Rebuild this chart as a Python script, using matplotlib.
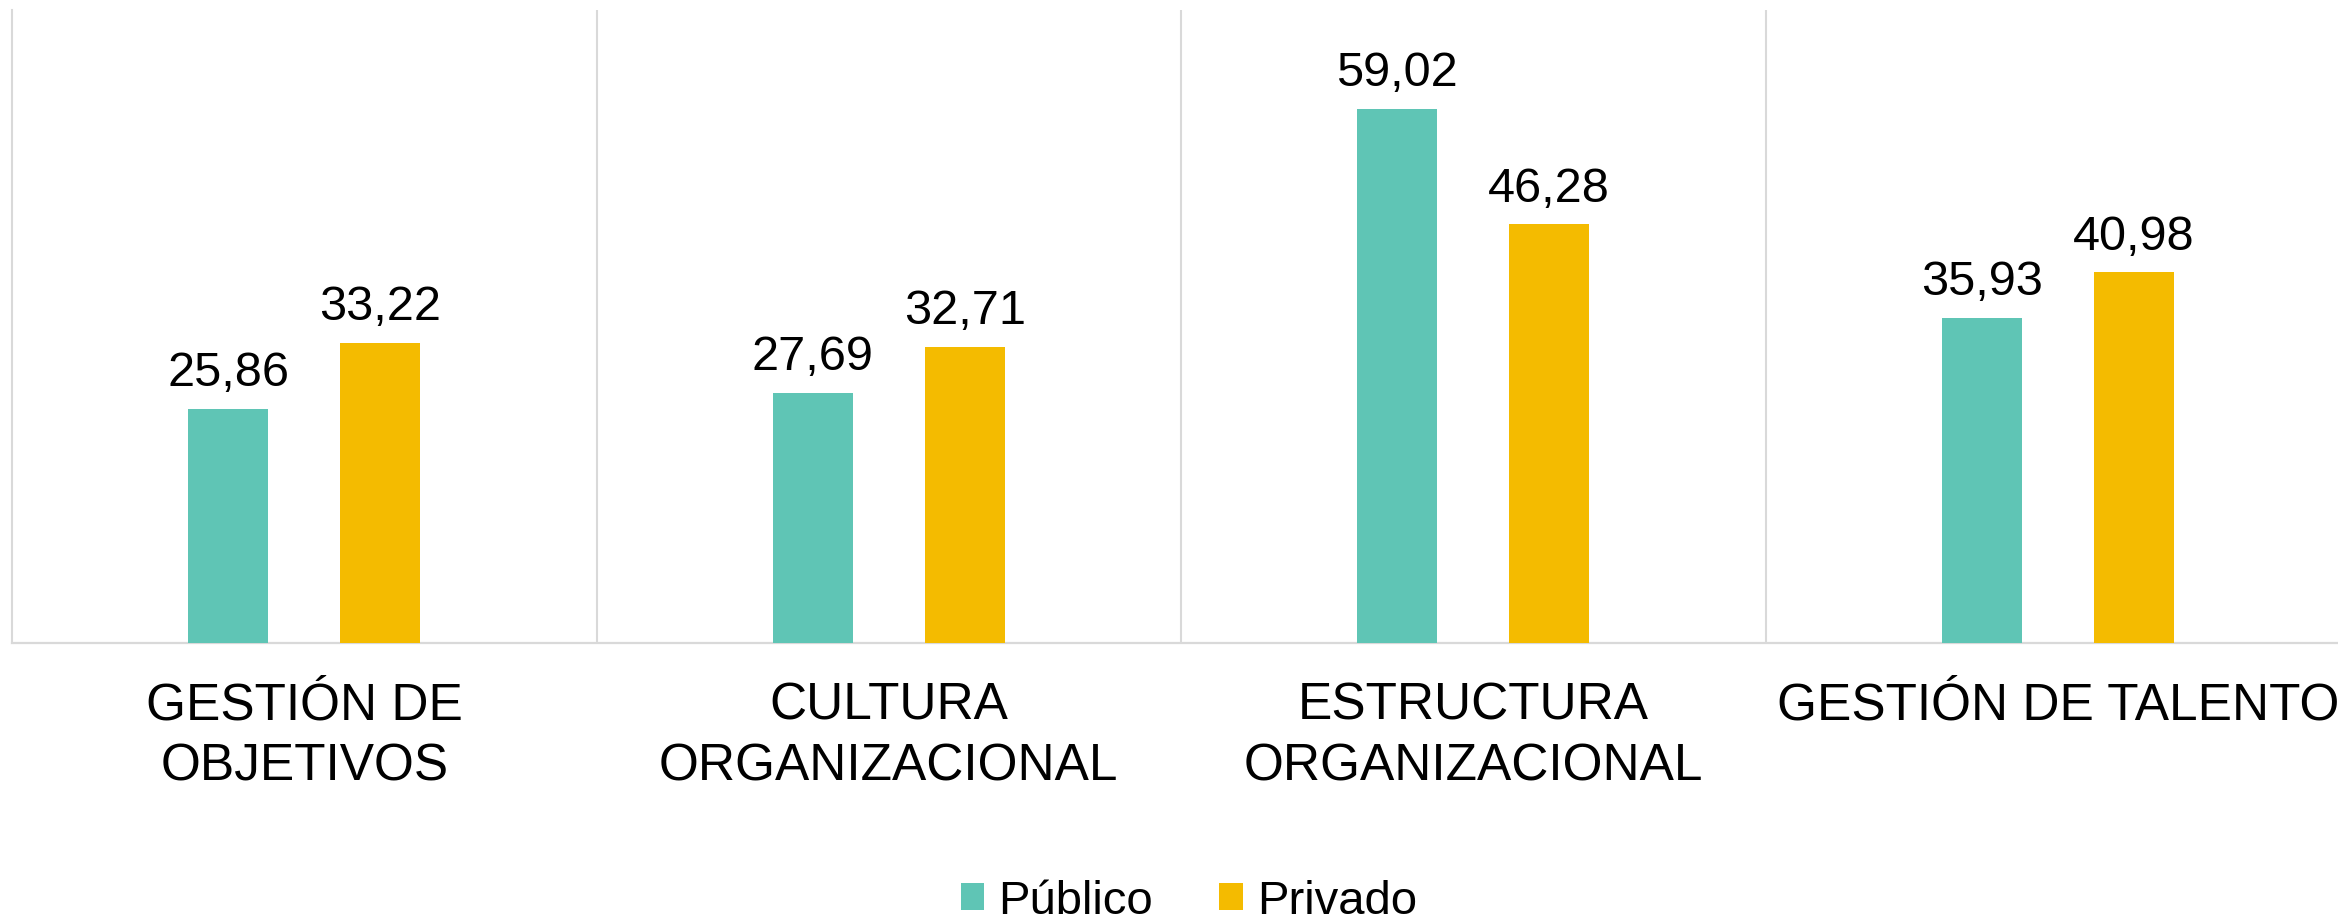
import numpy as np
import matplotlib
matplotlib.use("Agg")
import matplotlib.pyplot as plt

plt.rcParams['font.family'] = ['Liberation Sans', 'DejaVu Sans']

# data
categories = ["GESTIÓN DE\nOBJETIVOS", "CULTURA\nORGANIZACIONAL",
              "ESTRUCTURA\nORGANIZACIONAL", "GESTIÓN DE TALENTO"]
publico = [25.86, 27.69, 59.02, 35.93]
privado = [33.22, 32.71, 46.28, 40.98]
series_names = ["Público", "Privado"]

TEAL = "#5FC5B5"
GOLD = "#F4BB00"
GRID = "#D9D9D9"


def fmt(v):
    return "{:.2f}".format(v).replace(".", ",")


fig = plt.figure(figsize=(23.38, 9.21), dpi=100)
ax = fig.add_axes([12 / 2338, 278 / 921, 1.0, 633 / 921])

x = np.arange(len(categories))
w = 0.137
off = 0.13
b1 = ax.bar(x - off, publico, w, color=TEAL, label=series_names[0], zorder=3)
b2 = ax.bar(x + off, privado, w, color=GOLD, label=series_names[1], zorder=3)

for bars, vals in ((b1, publico), (b2, privado)):
    for rect, v in zip(bars, vals):
        ax.annotate(fmt(v), xy=(rect.get_x() + rect.get_width() / 2, v),
                    xytext=(0, 16.5), textcoords="offset points",
                    ha="center", va="baseline", fontsize=35, color="black")

ax.set_xlim(-0.5, 3.5)
ax.set_ylim(0, 70)

# category separators
for sep in x[:-1] + 0.5:
    ax.axvline(sep, color=GRID, lw=1.5, zorder=1)

for side in ("top", "right"):
    ax.spines[side].set_visible(False)
ax.spines["left"].set_color(GRID)
ax.spines["left"].set_linewidth(1.5)
ax.spines["bottom"].set_color(GRID)
ax.spines["bottom"].set_linewidth(1.6)

ax.set_yticks([])
ax.set_xticks(x)
ax.set_xticklabels(categories, fontsize=37, linespacing=1.3)
ax.tick_params(axis="x", length=0, pad=28)

fig.legend(handles=[b1, b2], loc="center", bbox_to_anchor=(1189 / 2338, 0.021),
           ncol=2, frameon=False, fontsize=34, handlelength=0.5, handleheight=0.5,
           handletextpad=0.3, columnspacing=1.4)

fig.savefig("out.png", dpi=100)
